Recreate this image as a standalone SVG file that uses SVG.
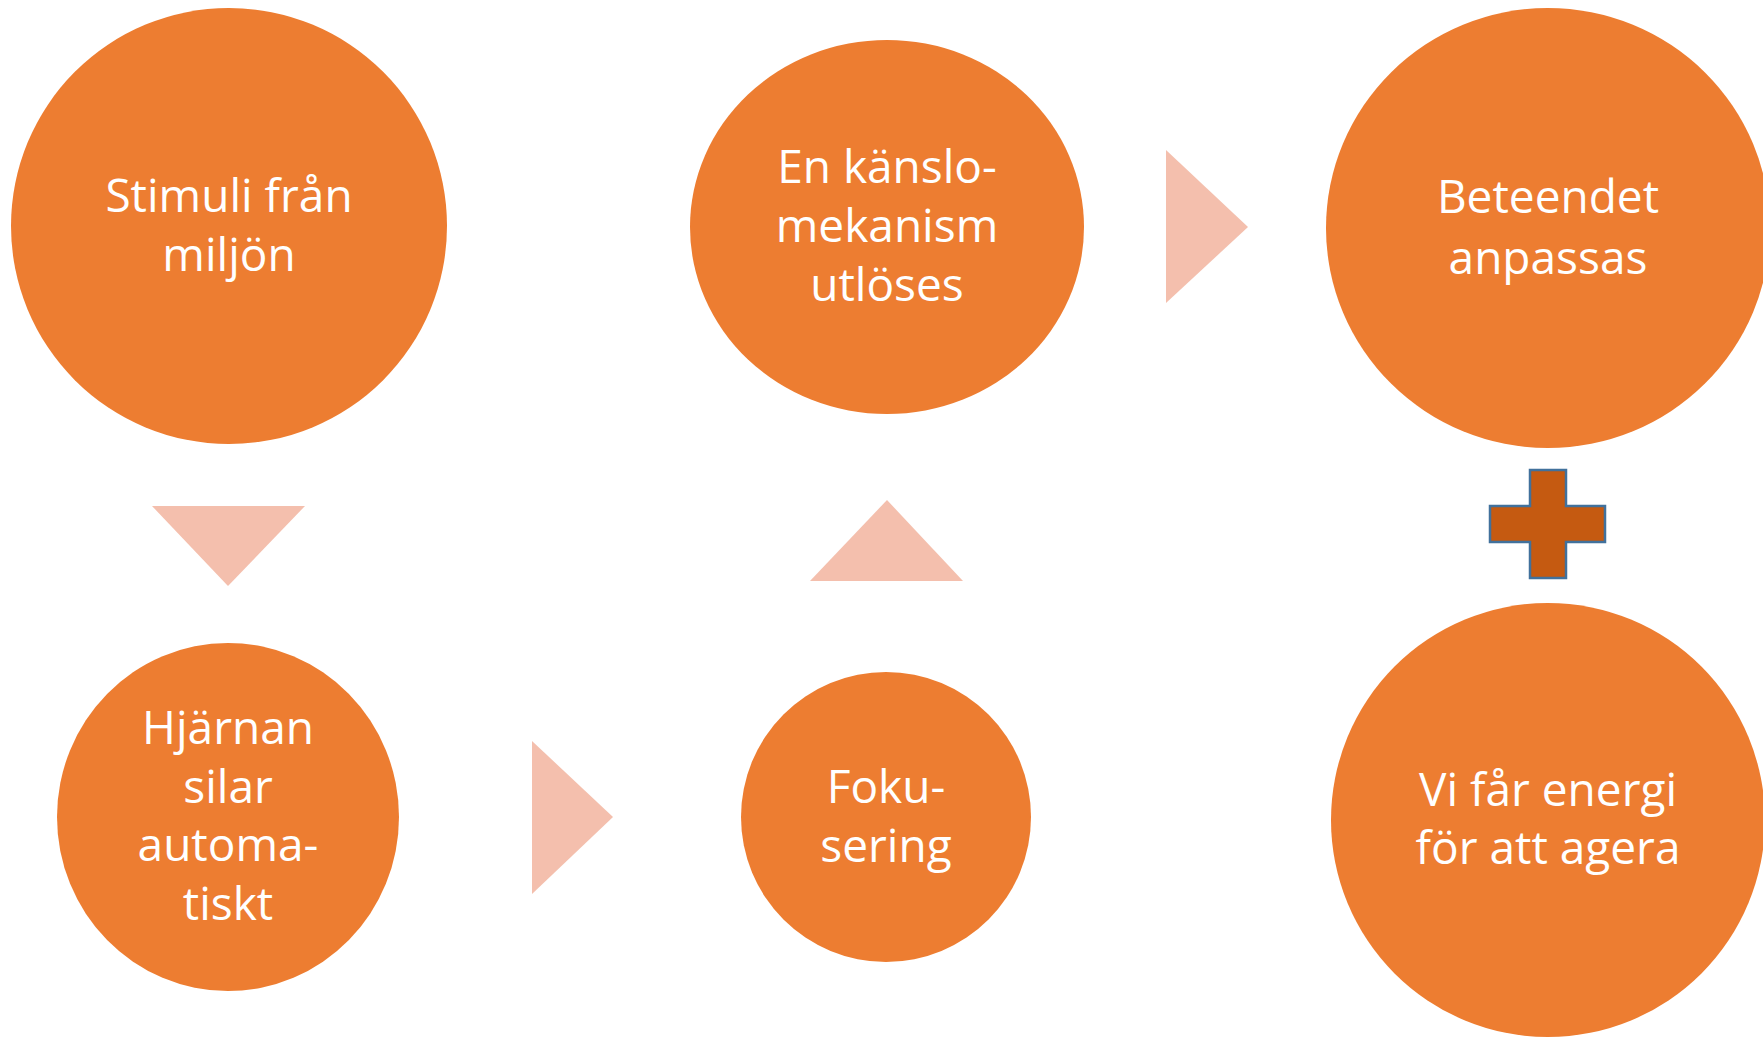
<svg xmlns="http://www.w3.org/2000/svg" width="1763" height="1037" viewBox="0 0 1763 1037">
<style>
.node{fill:#ED7D31}
.arr{fill:#F4BFAD}
.lbl{font-family:"Open Sans","Liberation Sans",sans-serif;font-size:46px;fill:#FFFFFF;text-anchor:middle}
.plus{fill:#C55A11;stroke:#41719C;stroke-width:2.5}
</style>
<rect width="1763" height="1037" fill="#FFFFFF"/>
<g id="connectors">
<polygon class="arr" points="152,506 305,506 228,586"/>
<polygon class="arr" points="532,741 532,894 613,817"/>
<polygon class="arr" points="810,581 963,581 887,500"/>
<polygon class="arr" points="1166,150 1166,303 1248,227"/>
<polygon class="plus" points="1530,470 1566,470 1566,506 1605,506 1605,542 1566,542 1566,578 1530,578 1530,542 1490,542 1490,506 1530,506"/>
</g>
<g id="n1">
<ellipse class="node" cx="229" cy="226" rx="218" ry="218"/>
<text class="lbl"><tspan x="229" y="212">Stimuli från</tspan><tspan x="229" y="271">miljön</tspan></text>
</g>
<g id="n2">
<ellipse class="node" cx="228" cy="817" rx="171" ry="174"/>
<text class="lbl"><tspan x="228" y="744">Hjärnan</tspan><tspan x="228" y="803">silar</tspan><tspan x="228" y="861">automa-</tspan><tspan x="228" y="920">tiskt</tspan></text>
</g>
<g id="n3">
<ellipse class="node" cx="886" cy="817" rx="145" ry="145"/>
<text class="lbl"><tspan x="886" y="803">Foku-</tspan><tspan x="886" y="862">sering</tspan></text>
</g>
<g id="n4">
<ellipse class="node" cx="887" cy="227" rx="197" ry="187"/>
<text class="lbl"><tspan x="887" y="183">En känslo-</tspan><tspan x="887" y="242">mekanism</tspan><tspan x="887" y="301">utlöses</tspan></text>
</g>
<g id="n5">
<ellipse class="node" cx="1548" cy="228" rx="222" ry="220"/>
<text class="lbl"><tspan x="1548" y="213">Beteendet</tspan><tspan x="1548" y="274">anpassas</tspan></text>
</g>
<g id="n6">
<ellipse class="node" cx="1548" cy="820" rx="217" ry="217"/>
<text class="lbl"><tspan x="1548" y="806">Vi får energi</tspan><tspan x="1548" y="864">för att agera</tspan></text>
</g>
</svg>
